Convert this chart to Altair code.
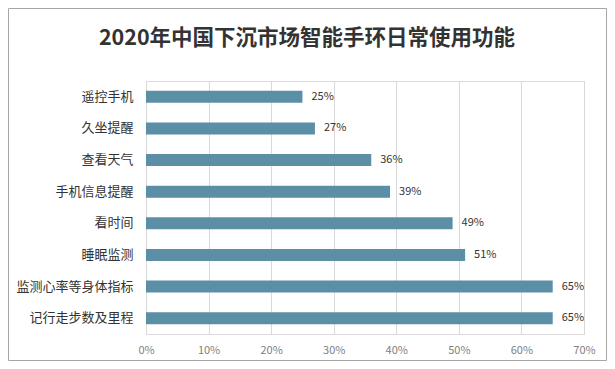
import altair as alt
import pandas as pd

categories = ["遥控手机", "久坐提醒", "查看天气", "手机信息提醒", "看时间", "睡眠监测", "监测心率等身体指标", "记行走步数及里程"]
values = [25, 27, 36, 39, 49, 51, 65, 65]
title_text = "2020年中国下沉市场智能手环日常使用功能"

df = pd.DataFrame({"cat": categories, "val": [v / 100 for v in values],
                   "label": [f"{v}%" for v in values]})

FONT = "Noto Sans CJK SC"
W, H = 438, 253
PL, PT, PR, PB = 138, 73, 23, 27

y_enc = alt.Y("cat:N", sort=categories, title=None,
              scale=alt.Scale(paddingInner=0.62, paddingOuter=0.31),
              axis=alt.Axis(labelFont=FONT, labelFontSize=13, labelColor="#333333",
                            ticks=False, domain=False, labelPadding=13))
x_enc = alt.X("val:Q", title=None,
              scale=alt.Scale(domain=[0, 0.7]),
              axis=alt.Axis(format=".0%", values=[i / 10 for i in range(8)],
                            labelFont=FONT, labelFontSize=11, labelColor="#7f7f7f",
                            labelFlush=False,
                            grid=True, gridColor="#d9d9d9", domain=False, ticks=False,
                            labelPadding=10))

bars = alt.Chart(df).mark_bar(color="#5B8FA6").encode(x=x_enc, y=y_enc)
text = alt.Chart(df).mark_text(align="left", dx=9, font=FONT, fontSize=11, color="#333333").encode(
    x="val:Q", y=alt.Y("cat:N", sort=categories), text="label:N")

border = alt.Chart(pd.DataFrame({"a": [0]})).mark_rect(
    fill=None, stroke="#a6a6a6", strokeWidth=1, clip=False).encode(
    x=alt.value(-PL + 0.5), x2=alt.value(W + PR - 0.5),
    y=alt.value(-PT + 0.5), y2=alt.value(H + PB - 0.5))

title = alt.Chart(pd.DataFrame({"t": [title_text]})).mark_text(
    font=FONT, fontSize=21.5, fontWeight="bold", color="#333333",
    align="center", baseline="middle").encode(
    text="t:N", x=alt.value(161), y=alt.value(-42))

chart = alt.layer(border, bars, text, title).properties(
    width=W, height=H,
    padding={"left": PL, "top": PT, "right": PR, "bottom": PB},
    autosize=alt.AutoSizeParams(type="none"),
).configure_view(stroke=None).configure(background="white")

chart.save("out.html", embed_options={"renderer": "svg", "actions": False})
